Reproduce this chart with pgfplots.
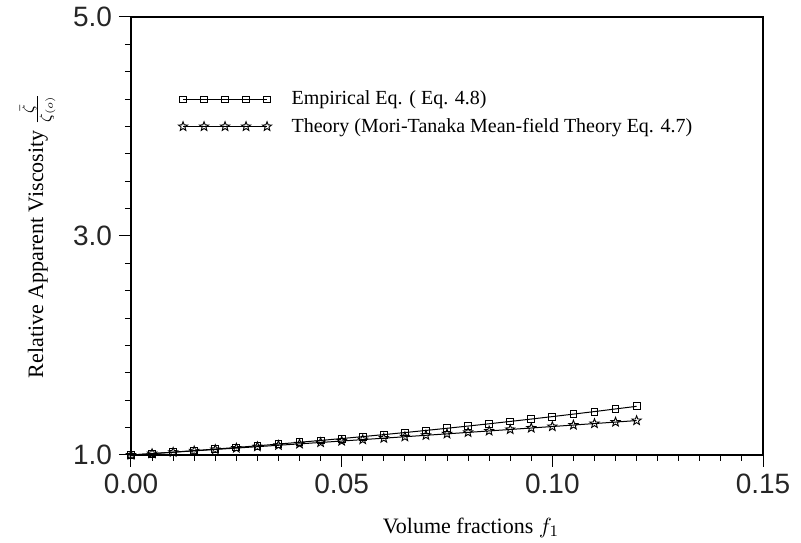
\documentclass[border=0pt]{standalone}
\usepackage{fontspec}
\setmainfont{Liberation Serif}
\newfontfamily\ticksfont{Liberation Sans}
\usepackage{pgfplots}
\pgfplotsset{compat=1.18}

% open five-pointed star mark
\pgfdeclareplotmark{ostar}{%
  \pgfpathmoveto{\pgfpointpolar{90}{\pgfplotmarksize}}%
  \pgfpathlineto{\pgfpointpolar{126}{0.42\pgfplotmarksize}}%
  \pgfpathlineto{\pgfpointpolar{162}{\pgfplotmarksize}}%
  \pgfpathlineto{\pgfpointpolar{198}{0.42\pgfplotmarksize}}%
  \pgfpathlineto{\pgfpointpolar{234}{\pgfplotmarksize}}%
  \pgfpathlineto{\pgfpointpolar{270}{0.42\pgfplotmarksize}}%
  \pgfpathlineto{\pgfpointpolar{306}{\pgfplotmarksize}}%
  \pgfpathlineto{\pgfpointpolar{342}{0.42\pgfplotmarksize}}%
  \pgfpathlineto{\pgfpointpolar{18}{\pgfplotmarksize}}%
  \pgfpathlineto{\pgfpointpolar{54}{0.42\pgfplotmarksize}}%
  \pgfpathclose\pgfusepathqstroke}

\pgfplotstableread{
f      emp     theo
0.000  1.0000  1.0000
0.005  1.0128  1.0125
0.010  1.0260  1.0251
0.015  1.0398  1.0377
0.020  1.0540  1.0504
0.025  1.0688  1.0631
0.030  1.0840  1.0759
0.035  1.0998  1.0887
0.040  1.1161  1.1016
0.045  1.1329  1.1145
0.050  1.1501  1.1275
0.055  1.1679  1.1405
0.060  1.1862  1.1536
0.065  1.2050  1.1667
0.070  1.2242  1.1799
0.075  1.2440  1.1931
0.080  1.2643  1.2064
0.085  1.2851  1.2197
0.090  1.3064  1.2331
0.095  1.3282  1.2465
0.100  1.3505  1.2600
0.105  1.3733  1.2735
0.110  1.3966  1.2871
0.115  1.4204  1.3007
0.120  1.4447  1.3144
}\visc

\begin{document}
\begin{tikzpicture}
\begin{axis}[
    name=ax,
    scale only axis,
    width=316pt, height=219pt,
    xmin=0, xmax=0.15, ymin=1, ymax=5,
    xtick={0,0.05,0.1,0.15},
    xticklabels={0.00,0.05,0.10,0.15},
    minor x tick num=9,
    ytick={1,3,5},
    yticklabels={1.0,3.0,5.0},
    minor y tick num=7,
    tick align=outside,
    tick pos=left,
    major tick length=6pt,
    minor tick length=3pt,
    axis line style={line width=0.6pt},
    tick style={black, line width=0.5pt},
    tick label style={font=\ticksfont\fontsize{14}{16}\selectfont, color=black!85},
    /pgf/number format/assume math mode=true,
    xlabel={Volume fractions $f_1$},
    ylabel={Relative Apparent Viscosity $\frac{\bar{\zeta}}{\zeta_{(o)}}$},
    label style={font=\fontsize{11}{13}\selectfont},
    xlabel style={yshift=-5pt, xshift=12pt},
    ylabel style={yshift=2pt},
    legend style={at={(0.065,0.85)}, anchor=north west, draw=none, fill=none,
      font=\fontsize{10}{12}\selectfont, row sep=1pt},
    legend cell align=left,
    legend image code/.code={%
      \draw[#1] plot coordinates {(0pt,0pt)(10.5pt,0pt)(21pt,0pt)(31.5pt,0pt)(42pt,0pt)};},
]
\addplot[black, line width=0.5pt, mark=square, mark size=1.7pt,
  mark options={solid, line width=0.45pt}] table[x=f, y=emp] {\visc};
\addlegendentry{\hspace*{8pt}Empirical Eq. ( Eq. 4.8)}
\addplot[black, line width=0.5pt, mark=ostar, mark size=2.4pt,
  mark options={solid, line width=0.45pt}] table[x=f, y=theo] {\visc};
\addlegendentry{\hspace*{8pt}Theory (Mori-Tanaka Mean-field Theory Eq. 4.7)}
\end{axis}
\pgfresetboundingbox
\path (ax.south west) ++(-65.5pt,-44pt) coordinate (bl);
\path (ax.north east) ++(19pt,8.5pt) coordinate (tr);
\useasboundingbox (bl) rectangle (tr);
\end{tikzpicture}
\end{document}
